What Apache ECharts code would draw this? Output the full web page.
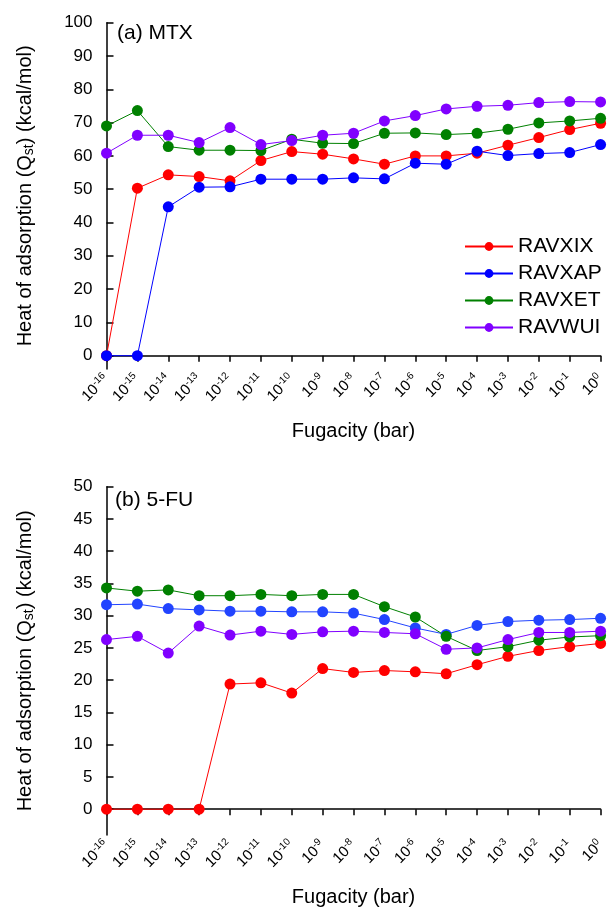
<!DOCTYPE html>
<html>
<head>
<meta charset="utf-8">
<script src="https://cdn.jsdelivr.net/npm/echarts@6/dist/echarts.min.js"></script>
<style>
  html, body { margin: 0; padding: 0; background: #fff; }
  #chart { width: 608px; height: 908px; }
</style>
</head>
<body>
<div id="chart"></div>
<script>
// fugacity exponents (10^x bar)
const exponents = ['-16', '-15', '-14', '-13', '-12', '-11', '-10', '-9', '-8', '-7', '-6', '-5', '-4', '-3', '-2', '-1', '0']

// (a) MTX
const mtxRAVXIX = [0, 50.3, 54.3, 53.8, 52.5, 58.6, 61.3, 60.5, 59.1, 57.5, 60.0, 60.0, 60.8, 63.2, 65.5, 67.9, 69.8]
const mtxRAVXAP = [0, 0, 44.7, 50.6, 50.7, 53.0, 53.0, 53.0, 53.4, 53.1, 57.8, 57.5, 61.4, 60.1, 60.7, 61.0, 63.4]
const mtxRAVXET = [69.0, 73.6, 62.8, 61.7, 61.7, 61.6, 65.0, 63.8, 63.7, 66.8, 66.9, 66.4, 66.8, 68.0, 69.9, 70.5, 71.3]
const mtxRAVWUI = [60.8, 66.2, 66.2, 64.0, 68.5, 63.4, 64.6, 66.2, 66.8, 70.5, 72.1, 74.1, 74.9, 75.2, 76.0, 76.3, 76.2]

// (b) 5-FU
const fuRAVXIX = [0, 0, 0, 0, 19.4, 19.6, 18.0, 21.8, 21.2, 21.5, 21.3, 21.0, 22.4, 23.7, 24.6, 25.2, 25.7]
const fuRAVXAP = [31.7, 31.8, 31.1, 30.9, 30.7, 30.7, 30.6, 30.6, 30.4, 29.4, 28.1, 27.1, 28.5, 29.1, 29.3, 29.4, 29.6]
const fuRAVXET = [34.3, 33.8, 34.0, 33.1, 33.1, 33.3, 33.1, 33.3, 33.3, 31.4, 29.8, 26.8, 24.6, 25.2, 26.2, 26.7, 26.9]
const fuRAVWUI = [26.3, 26.8, 24.2, 28.4, 27.0, 27.6, 27.1, 27.5, 27.6, 27.4, 27.2, 24.8, 25.0, 26.3, 27.4, 27.4, 27.6]

const mtxTicks = [0, 10, 20, 30, 40, 50, 60, 70, 80, 90, 100]
const fuTicks = [0, 5, 10, 15, 20, 25, 30, 35, 40, 45, 50]

const seriesNames = ['RAVXIX', 'RAVXAP', 'RAVXET', 'RAVWUI']
const colorsTop = ['#ff0000', '#0000ff', '#008000', '#8000ff']
const colorsBottom = ['#ff0000', '#2244ff', '#008000', '#8000ff']

const font = 'Liberation Sans, Arial, sans-serif'

function xAxis(gridIndex) {
  return {
    type: 'category',
    gridIndex: gridIndex,
    data: exponents,
    boundaryGap: false,
    name: 'Fugacity (bar)',
    nameLocation: 'middle',
    nameGap: 52,
    nameTextStyle: { fontFamily: font, fontSize: 20, color: '#000' },
    axisLine: { lineStyle: { color: '#000', width: 1.5 } },
    axisTick: { alignWithLabel: true, length: 6, lineStyle: { color: '#000', width: 1.5 } },
    axisLabel: {
      interval: 0,
      rotate: 45,
      margin: 8,
      formatter: e => '{b|10}{s|' + e + '}',
      rich: {
        b: { fontFamily: font, fontSize: 15, color: '#000' },
        s: { fontFamily: font, fontSize: 10, color: '#000', verticalAlign: 'top', padding: [0, 0, 8, 0] }
      }
    },
    splitLine: { show: false }
  }
}

function yAxis(gridIndex, max, ticks) {
  return {
    type: 'value',
    gridIndex: gridIndex,
    min: -4,
    max: max,
    name: '{a|Heat of adsorption (Q}{sub|st}{a|) (kcal/mol)}',
    nameLocation: 'middle',
    nameGap: 70,
    nameTextStyle: {
      rich: {
        a: { fontFamily: font, fontSize: 20, color: '#000' },
        sub: { fontFamily: font, fontSize: 14, color: '#000', verticalAlign: 'bottom', padding: [8, 0, 0, 0] }
      }
    },
    axisLine: { show: true, lineStyle: { color: '#000', width: 1.5 } },
    axisTick: { show: true, inside: true, customValues: ticks, length: 7, lineStyle: { color: '#000', width: 1.5 } },
    axisLabel: { customValues: ticks, fontFamily: font, fontSize: 17, color: '#000', margin: 14 },
    splitLine: { show: false }
  }
}

function lines(idx, dataSets, colors) {
  return dataSets.map((d, i) => ({
    name: seriesNames[i],
    type: 'line',
    xAxisIndex: idx,
    yAxisIndex: idx,
    data: d,
    symbol: 'circle',
    symbolSize: 11,
    color: colors[i],
    lineStyle: { width: 1, color: colors[i] },
    itemStyle: { color: colors[i] },
    emphasis: { disabled: true },
    animation: false
  }))
}

const chart = echarts.init(document.getElementById('chart'), null, { renderer: 'canvas' })

const option = {
  backgroundColor: '#fff',
  animation: false,
  grid: [
    { left: 106.5, right: 7, top: 22.7, height: 346.3 },
    { left: 106.5, right: 7, top: 486.7, height: 351.6 }
  ],
  title: [
    { text: '(a) MTX', left: 112, top: 18, textStyle: { fontFamily: font, fontSize: 21, fontWeight: 'normal', color: '#000' } },
    { text: '(b) 5-FU', left: 110, top: 485, textStyle: { fontFamily: font, fontSize: 21, fontWeight: 'normal', color: '#000' } }
  ],
  legend: {
    data: seriesNames,
    orient: 'vertical',
    left: 459,
    top: 231,
    itemWidth: 48,
    itemHeight: 11,
    itemGap: 6,
    textStyle: { fontFamily: font, fontSize: 21, color: '#000' },
    selectedMode: false
  },
  xAxis: [xAxis(0), xAxis(1)],
  yAxis: [yAxis(0, 100, mtxTicks), yAxis(1, 50, fuTicks)],
  series: [
    ...lines(0, [mtxRAVXIX, mtxRAVXAP, mtxRAVXET, mtxRAVWUI], colorsTop),
    ...lines(1, [fuRAVXIX, fuRAVXAP, fuRAVXET, fuRAVWUI], colorsBottom)
  ]
}

chart.setOption(option)
</script>
</body>
</html>
